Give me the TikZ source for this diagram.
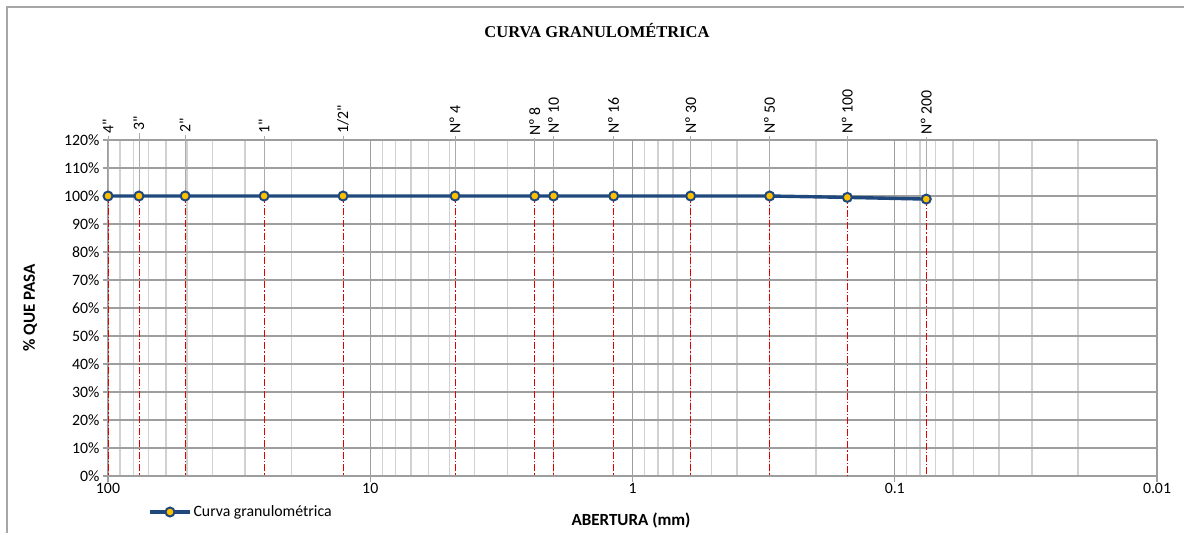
\documentclass[tikz,border=0pt]{standalone}
\usepackage{fontspec}
\setmainfont{Carlito}[Ligatures=TeXOff]
\newfontfamily\titlefont{Liberation Serif}
\usepackage{tikz}
\usetikzlibrary{positioning}
\definecolor{colorCurve}{HTML}{1F497D}
\definecolor{colorMarker}{HTML}{FFC000}
\colorlet{colorMinor}{black!18}
\colorlet{colorMajor}{black!38}
\colorlet{colorLeader}{black!33}
\colorlet{colorDrop}{red!90!black}

\begin{document}
\begin{tikzpicture}[x=1pt, y=1pt, font=\fontsize{15.8}{17}\selectfont,
  minor/.style={colorMinor, line width=1.4pt},
  major/.style={colorMajor, line width=1.2pt},
  curve/.style={colorCurve, line width=3.4pt},
  dot/.style={circle, draw=colorCurve, fill=colorMarker, line width=2pt, minimum size=9pt, inner sep=0pt},
  drop/.style={colorDrop, line width=0.9pt, dash pattern=on 7pt off 2pt on 1.2pt off 2pt},
  leader/.style={colorLeader, line width=0.8pt},
  sieve/.style={rotate=90, anchor=west, inner sep=2pt},
  axistitle/.style={font=\fontsize{17}{18}\selectfont\bfseries}]
\useasboundingbox (0,0) rectangle (1184,-533);
\draw[black!35, line width=1.2pt] (7,-533) -- (7,-7) -- (1184,-7);
\node[font=\fontsize{16.5}{18}\selectfont\titlefont\bfseries] (title) at (597,-31) {CURVA GRANULOMÉTRICA};

\begin{scope}[shift={(108,-476)}, x=262.25pt, y=2.8pt]
\foreach \d in {0,...,3}
  \foreach \m in {2,...,9}
    \draw[minor] ({\d+1-log10(\m)},0) -- ({\d+1-log10(\m)},120);
\foreach \p in {0,10,...,120} {
  \draw[major] (-0.019,\p) -- (4,\p);
  \node[left=0pt] (y\p) at (-0.019,\p) {\p\%};
}
\foreach \d/\lab in {0/100, 1/10, 2/1, 3/0.1, 4/0.01} {
  \draw[major] (\d,-2) -- (\d,120);
  \node[below=4pt] (x\d) at (\d,0) {\lab};
}

\foreach [count=\i] \lab/\mm/\p/\dx in {4"/100/100/0, 3"/76.2/100/3, 2"/50.8/100/1, 1"/25.4/100/0,
    {1/2"}/12.7/100/0, Nº 4/4.75/100/0, Nº 8/2.36/100/-2, Nº 10/2.0/100/0, Nº 16/1.18/100/0,
    Nº 30/0.6/100/0, Nº 50/0.3/100/0, Nº 100/0.15/99.5/0, Nº 200/0.075/98.9/-1} {
  \pgfmathsetmacro\xx{2-log10(\mm)}
  \coordinate (c\i) at (\xx,\p);
  \coordinate (b\i) at (\xx,0);
  \node[sieve, xshift=\dx pt] (l\i) at (\xx,121.4) {\lab};
  \draw[leader] (l\i.west) -- (c\i);
  \draw[drop] (c\i) -- (b\i);
}
\draw[curve] (c1) \foreach \i in {2,...,13} { -- (c\i) };
\foreach \i in {1,...,13}
  \node[dot] (p\i) at (c\i) {};
\end{scope}

\node[axistitle, rotate=90] (ytitle) at (30,-308) {\% QUE PASA};
\node[axistitle] (xtitle) at (631,-520) {ABERTURA (mm)};

\coordinate (legA) at (150,-512);
\coordinate (legB) at (190,-512);
\draw[curve] (legA) -- (legB);
\node[dot] (legdot) at (170,-512) {};
\node[right=0pt of legB] (legtext) {Curva granulométrica};
\end{tikzpicture}
\end{document}
